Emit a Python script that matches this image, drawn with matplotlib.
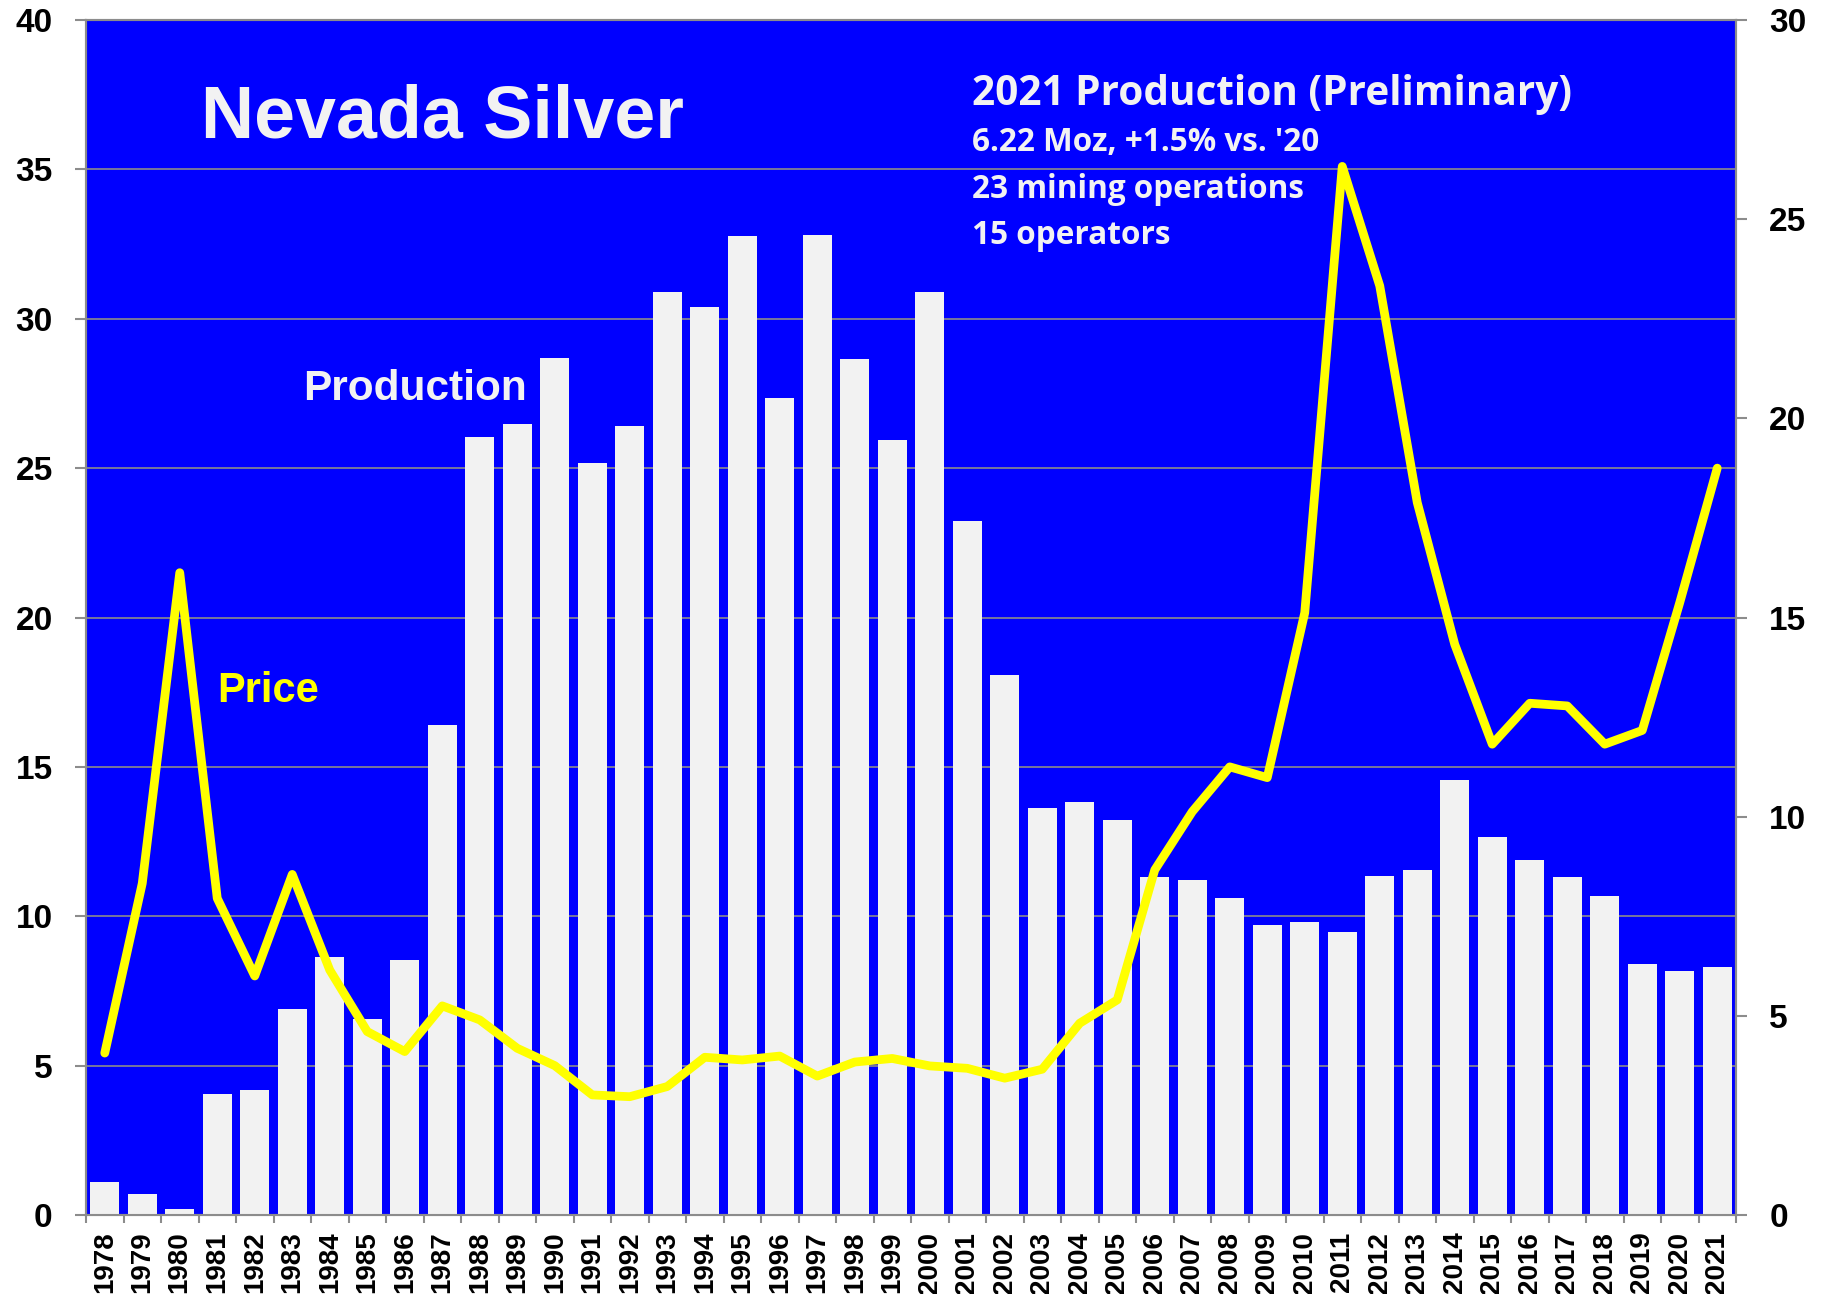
import matplotlib
matplotlib.use("Agg")
import matplotlib.pyplot as plt
import numpy as np

# data
years = list(range(1978, 2022))
production = [0.82, 0.52, 0.15, 3.03, 3.15, 5.16, 6.47, 4.93, 6.41, 12.3,
              19.53, 19.85, 21.52, 18.89, 19.8, 23.18, 22.8, 24.58, 20.52, 24.6,
              21.49, 19.45, 23.18, 17.43, 13.56, 10.23, 10.38, 9.91, 8.48, 8.4,
              7.96, 7.29, 7.35, 7.11, 8.51, 8.66, 10.93, 9.48, 8.92, 8.48,
              8.02, 6.3, 6.13, 6.22]
price = [5.42, 11.1, 21.5, 10.6, 8.0, 11.4, 8.2, 6.14, 5.47, 7.0,
         6.53, 5.58, 5.0, 4.02, 3.96, 4.3, 5.28, 5.19, 5.32, 4.65,
         5.12, 5.24, 4.99, 4.91, 4.58, 4.88, 6.42, 7.2, 11.55, 13.5,
         15.0, 14.64, 20.16, 35.1, 31.1, 23.85, 19.1, 15.76, 17.13, 17.04,
         15.76, 16.22, 20.5, 25.0]
price_ticks = list(range(0, 45, 5))
prod_ticks = list(range(0, 35, 5))
info_lines = ["6.22 Moz, +1.5% vs. '20", "23 mining operations", "15 operators"]

W, H = 1822, 1294
fig = plt.figure(figsize=(W / 100, H / 100), dpi=100)

# price axis (left) holds the blue background and the grid
ax = fig.add_axes([86 / W, 79 / H, 1650 / W, 1195 / H])
ax.set_facecolor("#0000FF")
ax.set_ylim(0, 40)
ax.set_xlim(-0.5, len(years) - 0.5)
ax.set_yticks(price_ticks)
ax.yaxis.grid(True, color="#8C8C8C", linewidth=1.2)
ax.set_axisbelow(True)

# production axis (right) with the bars
ax2 = ax.twinx()
ax2.set_ylim(0, 30)
ax2.set_yticks(prod_ticks)
x = np.arange(len(years))
ax2.bar(x, production, width=0.77, color="#F2F2F2", zorder=2)

# third layer for the price line so it sits above the bars
ax3 = ax.twinx()
ax3.set_ylim(0, 40)
ax3.axis("off")
ax3.plot(x, price, color="#FFFF00", linewidth=6.3,
         solid_joinstyle="round", solid_capstyle="round")

# x ticks at category boundaries, labels centred under bars
ax.set_xticks(np.arange(-0.5, len(years), 1.0))
ax.set_xticklabels([])
ax.set_xticks(x, minor=True)
ax.set_xticklabels([str(y) for y in years], minor=True, rotation=90,
                   fontsize=20, fontweight="bold", family="Liberation Sans")
ax.tick_params(axis="x", which="major", direction="out", length=6, width=1.5,
               color="#8C8C8C")
ax.tick_params(axis="x", which="minor", length=0, pad=12)

for a in (ax, ax2):
    a.tick_params(axis="y", direction="out", length=8, width=1.5,
                  color="#8C8C8C", pad=16, labelsize=24)
    for lab in a.get_yticklabels():
        lab.set_fontweight("bold")
        lab.set_family("Liberation Sans")
    for s in a.spines.values():
        s.set_color("#8C8C8C")
        s.set_linewidth(1.5)

# annotations
fig.text(201 / W, 1 - 137 / H, "Nevada Silver", color="#F2F2F2", fontsize=53,
         fontweight="bold", family="Liberation Sans", va="baseline")
fig.text(303 / W, 1 - 400 / H, "Production", color="#F2F2F2", fontsize=30.5,
         fontweight="bold", family="Liberation Sans", va="baseline")
fig.text(217 / W, 1 - 702 / H, "Price", color="#FFFF00", fontsize=30,
         fontweight="bold", family="Liberation Sans", va="baseline")
fig.text(972 / W, 1 - 105 / H, "2021 Production (Preliminary)", color="#F2F2F2",
         fontsize=29.2, fontweight="bold", family="Open Sans", va="baseline")
for i, line in enumerate(info_lines):
    fig.text(972 / W, 1 - (151 + 46.5 * i) / H, line, color="#F2F2F2",
             fontsize=22.7, fontweight="bold", family="Open Sans", va="baseline")

fig.savefig("out.png", dpi=100)
